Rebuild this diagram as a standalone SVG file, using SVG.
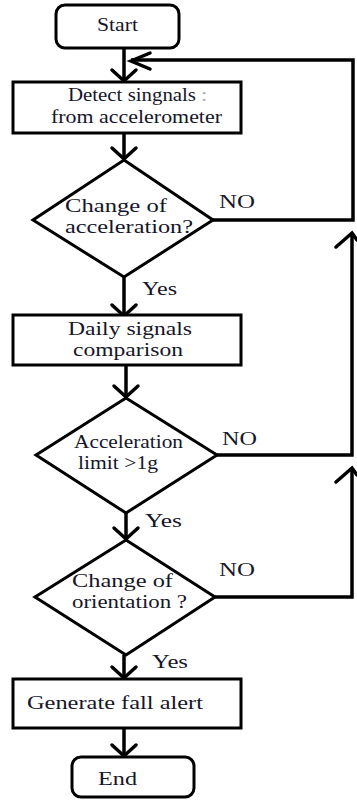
<svg xmlns="http://www.w3.org/2000/svg" width="357" height="800" viewBox="0 0 357 800">
<defs>
<style>
.n{fill:#fff;stroke:#000;stroke-width:3}
.c{fill:none;stroke:#000;stroke-width:3.5}
.h{fill:none;stroke:#000;stroke-width:3.5;stroke-linecap:round;stroke-linejoin:miter}
.t{font-family:'Liberation Serif','DejaVu Serif',serif;font-size:19px;fill:#16162a}
</style>
</defs>
<rect width="357" height="800" fill="#fff"/>
<g id="connectors">
<path class="c" d="M124,48 V81"/>
<path class="h" d="M112,70 L124,81 L136,70"/>
<path class="c" d="M124,133 V159"/>
<path class="h" d="M112,148 L124,159 L136,148"/>
<path class="c" d="M124,277 V316"/>
<path class="h" d="M112,305 L124,316 L136,305"/>
<path class="c" d="M126,365 V397"/>
<path class="h" d="M114,386 L126,397 L138,386"/>
<path class="c" d="M126,513 V539"/>
<path class="h" d="M114,528 L126,539 L138,528"/>
<path class="c" d="M124,655 V678"/>
<path class="h" d="M112,667 L124,678 L136,667"/>
<path class="c" d="M124,728 V756"/>
<path class="h" d="M112,745 L124,756 L136,745"/>
<path class="c" d="M213,220 H353 V60 H131"/>
<path class="h" d="M150,53 L131,61 L150,69"/>
<path class="c" d="M217,455 H352 V233"/>
<path class="h" d="M336,247 L352,233 L357,240"/>
<path class="c" d="M215,597 H352 V468"/>
<path class="h" d="M336,482 L352,468 L357,475"/>
</g>
<g class="t" font-family="Liberation Serif, DejaVu Serif, serif">
<g id="start"><rect class="n" x="56" y="5" width="123" height="43" rx="9"/><text x="97" y="31" textLength="41" lengthAdjust="spacingAndGlyphs">Start</text></g>
<g id="detect"><rect class="n" x="13" y="82" width="228" height="51"/><text x="68" y="101" textLength="139" lengthAdjust="spacingAndGlyphs">Detect singnals <tspan fill="#a8a8b8">:</tspan></text><text x="51" y="123" textLength="171" lengthAdjust="spacingAndGlyphs">from accelerometer</text></g>
<g id="d1"><polygon class="n" points="124,160 213,220 124,277 33,220"/><text x="65" y="212" textLength="102" lengthAdjust="spacingAndGlyphs">Change of</text><text x="65" y="233" textLength="128" lengthAdjust="spacingAndGlyphs">acceleration?</text></g>
<g id="daily"><rect class="n" x="13" y="315" width="228" height="50"/><text x="68" y="335" textLength="124" lengthAdjust="spacingAndGlyphs">Daily signals</text><text x="73" y="356" textLength="110" lengthAdjust="spacingAndGlyphs">comparison</text></g>
<g id="d2"><polygon class="n" points="126,398 217,455 126,513 36,455"/><text x="74" y="448" textLength="109" lengthAdjust="spacingAndGlyphs">Acceleration</text><text x="78" y="469" textLength="80" lengthAdjust="spacingAndGlyphs">limit &gt;1g</text></g>
<g id="d3"><polygon class="n" points="126,540 215,597 126,655 35,597"/><text x="72" y="587" textLength="101" lengthAdjust="spacingAndGlyphs">Change of</text><text x="72" y="608" textLength="115" lengthAdjust="spacingAndGlyphs">orientation ?</text></g>
<g id="alert"><rect class="n" x="13" y="679" width="228" height="49"/><text x="27" y="709" textLength="176" lengthAdjust="spacingAndGlyphs">Generate fall alert</text></g>
<g id="end"><rect class="n" x="72" y="757" width="122" height="40" rx="9"/><text x="98" y="785" textLength="39" lengthAdjust="spacingAndGlyphs">End</text></g>
<g id="labels">
<text x="219" y="208" textLength="36" lengthAdjust="spacingAndGlyphs">NO</text>
<text x="142" y="295" textLength="35" lengthAdjust="spacingAndGlyphs">Yes</text>
<text x="222" y="445" textLength="35" lengthAdjust="spacingAndGlyphs">NO</text>
<text x="145" y="527" textLength="37" lengthAdjust="spacingAndGlyphs">Yes</text>
<text x="219" y="576" textLength="36" lengthAdjust="spacingAndGlyphs">NO</text>
<text x="152" y="668" textLength="36" lengthAdjust="spacingAndGlyphs">Yes</text>
</g>
</g>
</svg>
